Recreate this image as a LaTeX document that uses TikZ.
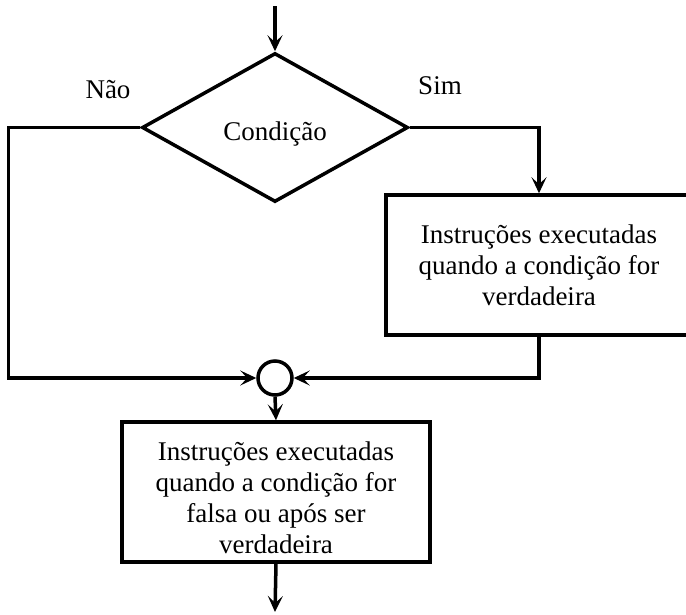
\documentclass[tikz,border=0pt]{standalone}
\usepackage{fontspec}
\setmainfont{Liberation Serif}
\usetikzlibrary{shapes.geometric,arrows.meta}
\begin{document}
\begin{tikzpicture}[x=1pt,y=-1pt,
  line width=3.5pt,
  every node/.style={font=\fontsize{27}{31}\selectfont},
  flow/.style={-{Stealth[length=16pt,width=15pt,inset=7pt]}},
  decision/.style={draw,diamond,minimum width=266pt,minimum height=149pt,inner sep=0pt},
  process/.style={draw,rectangle,align=center,inner sep=0pt},
  junction/.style={draw,circle,minimum size=34pt,inner sep=0pt},
  tag/.style={inner sep=0pt}]
  \clip (0,0) rectangle (686,614);

  % shapes
  \node[decision] (dia) at (275,127.5) {\raisebox{-12.5pt}[0pt][0pt]{Condição}};
  \node[process,minimum width=306pt,minimum height=140pt] (rbox) at (539,265)
    {Instruções executadas\\quando a condição for\\verdadeira};
  \node[junction] (circ) at (275,378) {};
  \node[process,minimum width=308pt,minimum height=140pt] (bbox) at (276,492)
    {\rule{0pt}{30pt}Instruções executadas\\quando a condição for\\falsa ou após ser\\verdadeira};

  % branch labels
  \node[tag] (nao) at (108,90) {Não};
  \node[tag] (sim) at (440,86) {Sim};

  % free ends
  \coordinate (start) at (275,6);
  \coordinate (stop) at (275,612);

  % connectors
  \draw[flow] (start) -- (dia.north);
  \draw[flow] (dia.west) -- ++(-132,0) |- (circ.west);
  \draw[flow] (dia.east) -| (rbox.north);
  \draw[flow] (rbox.south) |- (circ.east);
  \draw[flow] (circ.south) -- (bbox.north);
  \draw[flow] (bbox.south) -- (stop);
\end{tikzpicture}
\end{document}
